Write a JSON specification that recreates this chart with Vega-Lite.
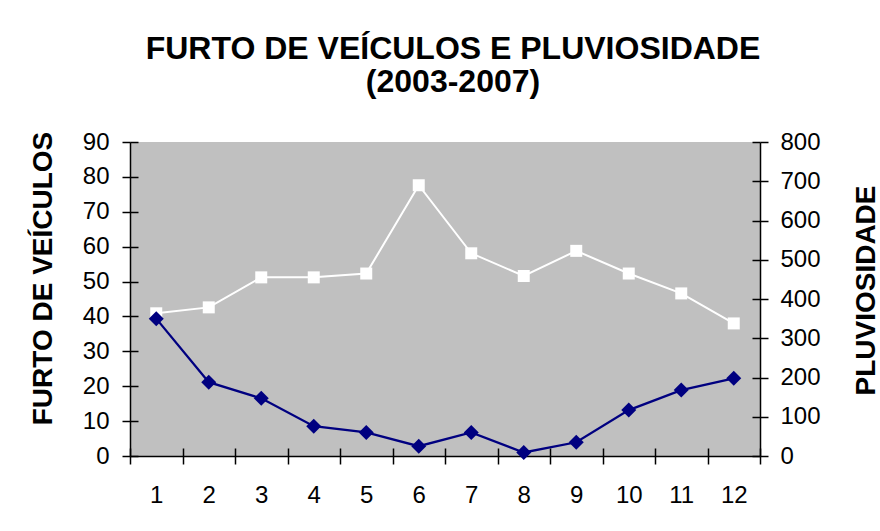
{
  "$schema": "https://vega.github.io/schema/vega-lite/v6.json",
  "width": 630,
  "height": 314,
  "autosize": {"type": "none"},
  "padding": {"left": 130, "top": 142, "right": 120, "bottom": 75},
  "background": "white",
  "title": {
    "text": ["FURTO DE VEÍCULOS E PLUVIOSIDADE", "(2003-2007)"],
    "anchor": "middle",
    "frame": "group",
    "font": "Liberation Sans",
    "fontSize": 32,
    "fontWeight": "bold",
    "color": "black",
    "lineHeight": 33,
    "baseline": "alphabetic",
    "offset": 6,
    "dx": 8
  },
  "data": {
    "values": [
      {"mes": 1, "furto": 40.9, "pluviosidade": 350},
      {"mes": 2, "furto": 42.6, "pluviosidade": 188},
      {"mes": 3, "furto": 51.2, "pluviosidade": 147},
      {"mes": 4, "furto": 51.2, "pluviosidade": 76},
      {"mes": 5, "furto": 52.3, "pluviosidade": 60},
      {"mes": 6, "furto": 77.6, "pluviosidade": 25},
      {"mes": 7, "furto": 58.1, "pluviosidade": 60},
      {"mes": 8, "furto": 51.6, "pluviosidade": 9},
      {"mes": 9, "furto": 58.8, "pluviosidade": 35},
      {"mes": 10, "furto": 52.3, "pluviosidade": 117},
      {"mes": 11, "furto": 46.6, "pluviosidade": 168},
      {"mes": 12, "furto": 38.0, "pluviosidade": 198}
    ]
  },
  "layer": [
    {
      "encoding": {
        "x": {
          "field": "mes",
          "type": "ordinal",
          "scale": {"type": "band", "paddingInner": 0, "paddingOuter": 0},
          "axis": {
            "orient": "bottom",
            "tickBand": "extent",
            "tickSize": 8,
            "labelAngle": 0,
            "labelBaseline": "alphabetic",
            "labelPadding": 38,
            "title": null
          }
        }
      },
      "layer": [
        {
          "mark": {"type": "line", "color": "white", "strokeWidth": 2},
          "encoding": {
            "y": {
              "field": "furto",
              "type": "quantitative",
              "scale": {"domain": [0, 90], "nice": false},
              "axis": {
                "orient": "left",
                "values": [0, 10, 20, 30, 40, 50, 60, 70, 80, 90],
                "tickSize": 8,
                "labelPadding": 13,
                "title": "FURTO DE VEÍCULOS",
                "titleAngle": -90,
                "titleBaseline": "alphabetic",
                "titleAlign": "center",
                "titleX": -79,
                "titleY": 136
              }
            }
          }
        },
        {
          "mark": {"type": "point", "shape": "square", "filled": true, "color": "white", "size": 144, "opacity": 1},
          "encoding": {
            "y": {
              "field": "furto",
              "type": "quantitative",
              "axis": {
                "orient": "left",
                "values": [0, 10, 20, 30, 40, 50, 60, 70, 80, 90],
                "offset": -8,
                "tickSize": 8,
                "labels": false,
                "domain": false,
                "title": null
              }
            }
          }
        }
      ],
      "resolve": {"axis": {"y": "independent"}}
    },
    {
      "encoding": {
        "x": {
          "field": "mes",
          "type": "ordinal",
          "axis": {
            "orient": "bottom",
            "tickBand": "extent",
            "offset": -8,
            "tickSize": 8,
            "labels": false,
            "domain": false,
            "title": null
          }
        }
      },
      "layer": [
        {
          "mark": {"type": "line", "color": "#000080", "strokeWidth": 2.3},
          "encoding": {
            "y": {
              "field": "pluviosidade",
              "type": "quantitative",
              "scale": {"domain": [0, 800], "nice": false},
              "axis": {
                "orient": "right",
                "values": [0, 100, 200, 300, 400, 500, 600, 700, 800],
                "tickSize": 8,
                "labelPadding": 12,
                "title": "PLUVIOSIDADE",
                "titleAngle": -90,
                "titleBaseline": "alphabetic",
                "titleAlign": "center",
                "titleX": 114,
                "titleY": 148
              }
            }
          }
        },
        {
          "mark": {"type": "point", "shape": "diamond", "filled": true, "color": "#000080", "size": 225, "opacity": 1},
          "encoding": {
            "y": {
              "field": "pluviosidade",
              "type": "quantitative",
              "axis": {
                "orient": "right",
                "values": [0, 100, 200, 300, 400, 500, 600, 700, 800],
                "offset": -8,
                "tickSize": 8,
                "labels": false,
                "domain": false,
                "title": null
              }
            }
          }
        }
      ],
      "resolve": {"axis": {"y": "independent"}}
    }
  ],
  "resolve": {"scale": {"y": "independent"}, "axis": {"x": "independent"}},
  "config": {
    "view": {"fill": "#c0c0c0", "stroke": null},
    "axis": {
      "grid": false,
      "domainColor": "black",
      "domainWidth": 1.5,
      "tickColor": "black",
      "tickWidth": 1.5,
      "labelFont": "Liberation Sans",
      "labelFontSize": 24,
      "labelColor": "black",
      "titleFont": "Liberation Sans",
      "titleFontSize": 28,
      "titleFontWeight": "bold",
      "titleColor": "black"
    }
  }
}
